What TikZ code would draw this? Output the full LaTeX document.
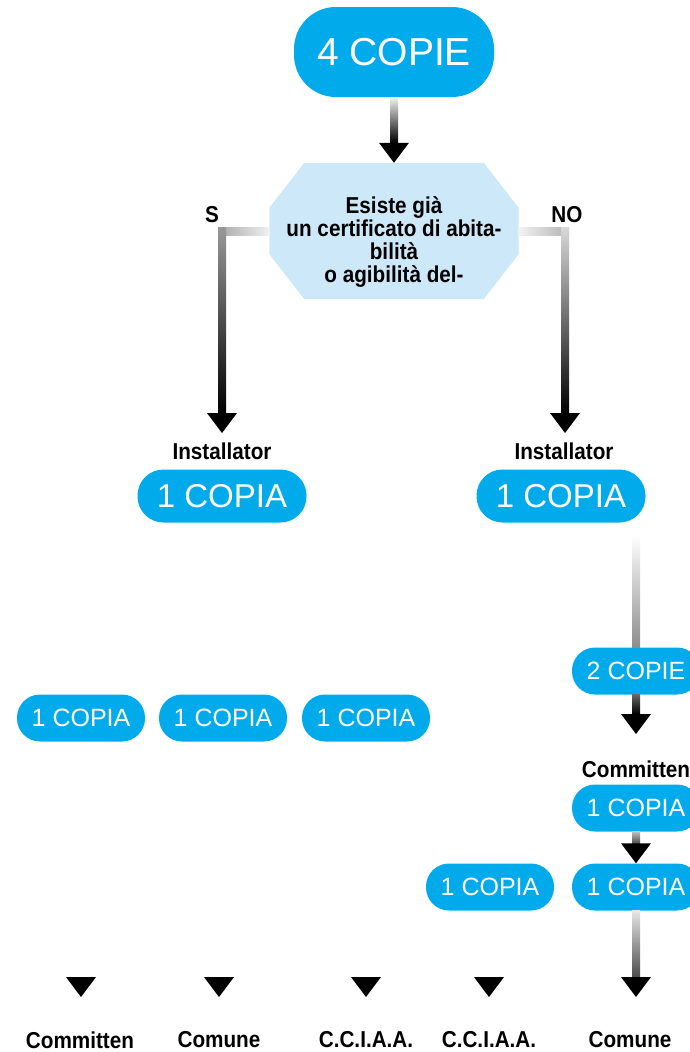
\documentclass[tikz,border=0pt]{standalone}
\usepackage{fontspec}
\setmainfont{Liberation Sans}
\newfontfamily\whofont[FakeStretch=0.9]{Liberation Sans}
\usetikzlibrary{calc}

\definecolor{copyblue}{RGB}{0,170,235}
\definecolor{askblue}{RGB}{205,232,248}

\tikzset{
    pill/.style={fill=copyblue, text=white, inner sep=0pt},
    pillbig/.style={pill, minimum width=169pt, minimum height=53pt, rounded corners=26pt,
        font=\fontsize{33}{36}\selectfont},
    pillsmall/.style={pill, minimum width=128pt, minimum height=47pt, rounded corners=23pt,
        font=\fontsize{25}{28}\selectfont},
    who/.style={font=\whofont\bfseries\fontsize{23}{23}\selectfont, inner sep=0pt},
}

\begin{document}
\begin{tikzpicture}[x=1pt, y=-1pt]

    % --- Page frame (y grows downwards) ---
    \useasboundingbox (0,0) rectangle (690,1052);
    \clip (0,0) rectangle (690,1052);

    % --- Arrow dimensions ---
    \def\ShaftHalf{4}
    \def\HeadHalf{15}
    \def\HeadLen{20}
    \def\CutX{35}   % octagon corner cut
    \def\CutY{45}

    % shaded shaft from #1 down to the tip #2, colours #3 (top) and #4 (bottom)
    \def\DropArrow#1#2#3#4{%
        \shade[top color=#3, bottom color=#4]
            ($(#1)+(-\ShaftHalf,0)$) rectangle ($(#2)+(\ShaftHalf,-\HeadLen)$);
        \fill[black] ($(#2)+(-\HeadHalf,-\HeadLen)$) -- ($(#2)+(\HeadHalf,-\HeadLen)$)
            -- (#2) -- cycle;
    }

    % --- Start and question ---
    \node[pill, minimum width=200pt, minimum height=90pt, rounded corners=42pt,
        font=\fontsize{39}{42}\selectfont] (four) at (394,52) {4 COPIE};

    \node[minimum width=249pt, minimum height=136pt, inner sep=0pt] (ask) at (394,231) {};
    \fill[askblue]
        ($(ask.north west)+(\CutX,0)$) -- ($(ask.north east)+(-\CutX,0)$)
        -- ($(ask.north east)+(0,\CutY)$) -- ($(ask.south east)+(0,-\CutY)$)
        -- ($(ask.south east)+(-\CutX,0)$) -- ($(ask.south west)+(\CutX,0)$)
        -- ($(ask.south west)+(0,-\CutY)$) -- ($(ask.north west)+(0,\CutY)$) -- cycle;
    \node[who, align=center] (asktext) at (394,242)
        {Esiste già\\un certificato di abita-\\bilità\\o agibilità del-};

    \DropArrow{four.south}{ask.north}{black!5}{black}

    % --- Branches ---
    \node[who] (yes) at (212,215) {S};
    \node[who] (no) at (567,215) {NO};

    \coordinate (bendL) at (222,227);
    \coordinate (bendR) at (565,227);
    \coordinate (tipL) at (222,433);
    \coordinate (tipR) at (565,433);

    \shade[left color=black!35, right color=black!5]
        ($(bendL)+(-\ShaftHalf,0)$) rectangle ($(ask.west)+(0,4)$);
    \shade[left color=black!5, right color=black!30]
        ($(ask.east)+(0,-4)$) rectangle ($(bendR)+(\ShaftHalf,8)$);
    \DropArrow{bendL}{tipL}{black!40}{black}
    \DropArrow{bendR}{tipR}{black!15}{black}

    \node[who] (instL) at (222,451) {Installator};
    \node[who] (instR) at (564,451) {Installator};
    \node[pillbig] (copL) at (222,496) {1 COPIA};
    \node[pillbig] (copR) at (561,496) {1 COPIA};

    % --- Left row ---
    \node[pillsmall] (leftA) at (81,718) {1 COPIA};
    \node[pillsmall] (leftB) at (223,718) {1 COPIA};
    \node[pillsmall] (leftC) at (366,718) {1 COPIA};

    % --- Right column ---
    \coordinate (colTop) at (636,535);
    \node[pillsmall] (two) at (636,671) {2 COPIE};
    \shade[top color=white, bottom color=black!45]
        ($(colTop)+(-\ShaftHalf,0)$) rectangle ($(two.north)+(\ShaftHalf,0)$);

    \coordinate (tipComm) at (636,734);
    \DropArrow{two.south}{tipComm}{black!60}{black}
    \node[who] (commR) at (636,769) {Committen};

    \node[pillsmall] (oneC) at (636,808) {1 COPIA};
    \node[pillsmall] (oneD) at (636,887) {1 COPIA};
    \node[pillsmall] (oneE) at (490,887) {1 COPIA};
    \DropArrow{oneC.south}{oneD.north}{black!25}{black!70}

    \coordinate (tipComune) at (636,997);
    \DropArrow{oneD.south}{tipComune}{black!10}{black!70}

    % --- Bottom heads and receivers ---
    \foreach \hx in {81,219,366,489}
        \fill[black] ({\hx-\HeadHalf},977) -- ({\hx+\HeadHalf},977) -- (\hx,997) -- cycle;

    \node[who] (destA) at (80,1040) {Committen};
    \node[who] (destB) at (219,1040) {Comune};
    \node[who] (destC) at (366,1040) {C.C.I.A.A.};
    \node[who] (destD) at (489,1040) {C.C.I.A.A.};
    \node[who] (destE) at (630,1040) {Comune};

\end{tikzpicture}
\end{document}
